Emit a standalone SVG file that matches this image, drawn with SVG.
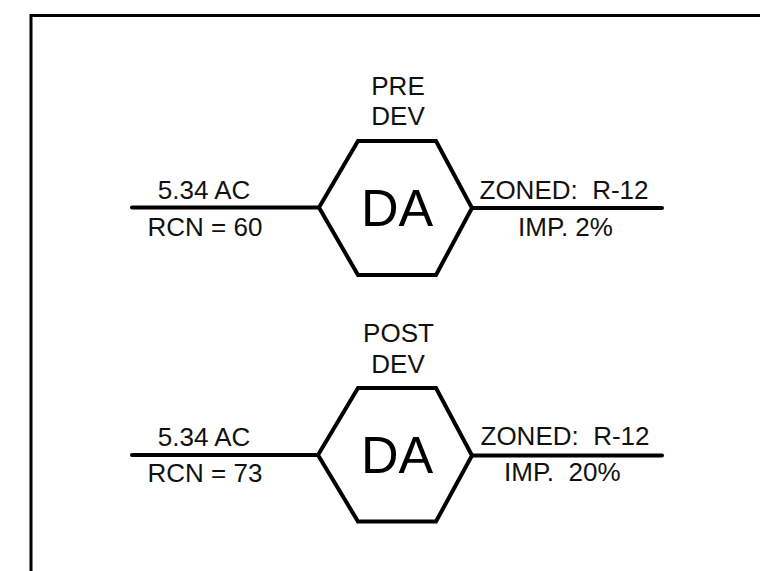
<svg xmlns="http://www.w3.org/2000/svg" width="760" height="571" viewBox="0 0 760 571">
  <style>
    .hex { fill: #ffffff; stroke: #000000; stroke-width: 4; stroke-linejoin: miter; }
    .conn { stroke: #000000; stroke-width: 4; stroke-linecap: round; fill: none; }
    .lbl { font-family: "Liberation Sans", Arial, sans-serif; font-size: 26px; fill: #111111; }
    .mid { text-anchor: middle; }
    .big { font-family: "Liberation Sans", Arial, sans-serif; font-size: 52px; fill: #000000; text-anchor: middle; }
    .frame { fill: none; stroke: #000000; stroke-width: 3; }
  </style>
  <rect width="760" height="571" fill="#ffffff"/>
  <rect class="frame" x="31" y="15.5" width="760" height="580"/>

  <g id="connectors">
    <line class="conn" x1="132" y1="207.5" x2="319" y2="207.5"/>
    <line class="conn" x1="472" y1="208" x2="662" y2="208"/>
    <line class="conn" x1="132" y1="455" x2="318" y2="455"/>
    <line class="conn" x1="472" y1="455.5" x2="662" y2="455.5"/>
    <text class="lbl mid" x="204" y="199">5.34 AC</text>
    <text class="lbl mid" x="205" y="236">RCN = 60</text>
    <text class="lbl" x="479.5" y="199" xml:space="preserve">ZONED:  R-12</text>
    <text class="lbl mid" x="565.5" y="236">IMP. 2%</text>
    <text class="lbl mid" x="204" y="446">5.34 AC</text>
    <text class="lbl mid" x="205" y="482">RCN = 73</text>
    <text class="lbl" x="480.5" y="445" xml:space="preserve">ZONED:  R-12</text>
    <text class="lbl" x="504" y="481" xml:space="preserve">IMP.  20%</text>
  </g>

  <g id="pre-dev">
    <polygon class="hex" points="319,207.5 358,141 436,141 472,208 436,275 358,275"/>
    <text class="big" x="397" y="226">DA</text>
    <text class="lbl mid" x="398" y="95">PRE</text>
    <text class="lbl mid" x="398" y="125">DEV</text>
  </g>

  <g id="post-dev">
    <polygon class="hex" points="318,455 358,388 436,388 472,455.5 436,521.5 358,521.5"/>
    <text class="big" x="397" y="472.5">DA</text>
    <text class="lbl mid" x="398.5" y="342">POST</text>
    <text class="lbl mid" x="398" y="373">DEV</text>
  </g>
</svg>
